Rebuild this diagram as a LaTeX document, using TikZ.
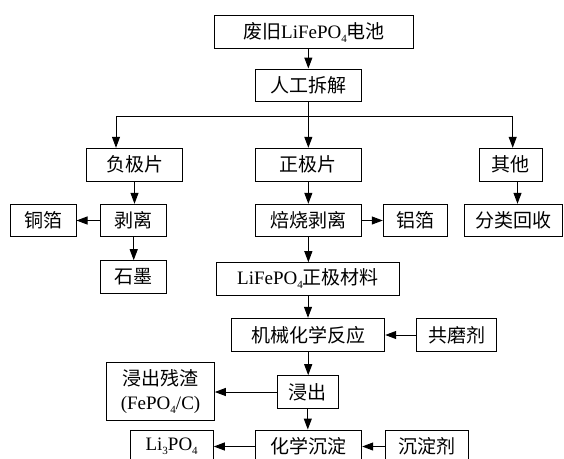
\documentclass[tikz,border=0pt]{standalone}
\usepackage{fontspec}
\setmainfont{Liberation Serif}
\newfontfamily\cjk{Noto Sans CJK SC}
\usetikzlibrary{arrows.meta}
\newcommand{\lowsub}[1]{\raisebox{-4pt}{\fontsize{11}{11}\selectfont #1}}
\newcommand{\lat}[1]{{\rmfamily #1}}
\tikzset{
  box/.style={draw, line width=1pt, inner sep=0pt, align=center,
    font=\cjk\fontsize{19}{24}\selectfont},
  arr/.style={line width=1pt, -{Triangle[length=11pt,width=8pt]}},
  ln/.style={line width=1pt}
}
\begin{document}
\begin{tikzpicture}[x=1pt,y=-1pt]
\useasboundingbox (0,0) rectangle (564,458);
\clip (0,0) rectangle (564,458);
\node[box, minimum width=199.4pt, minimum height=32.6pt] (top) at (314,32) {废旧\lat{LiFePO\lowsub{4}}电池};
\node[box, minimum width=106.7pt, minimum height=32pt] (rg) at (308.35,85) {人工拆解};
\node[box, minimum width=95.6pt, minimum height=32.7pt] (fj) at (134.5,164.65) {负极片};
\node[box, minimum width=106.7pt, minimum height=32.7pt] (zj) at (308.35,164.65) {正极片};
\node[box, minimum width=63.7pt, minimum height=32.7pt] (qt) at (510.85,164.65) {其他};
\node[box, minimum width=66pt, minimum height=32.4pt] (tb) at (43,220.5) {铜箔};
\node[box, minimum width=66pt, minimum height=32.4pt] (bl) at (133.7,220.5) {剥离};
\node[box, minimum width=66pt, minimum height=32.3pt] (sm) at (133.7,276.85) {石墨};
\node[box, minimum width=106.7pt, minimum height=32.4pt] (bs) at (308.35,220.5) {焙烧剥离};
\node[box, minimum width=63.7pt, minimum height=32.4pt] (lb) at (415.15,220.5) {铝箔};
\node[box, minimum width=98.4pt, minimum height=32.4pt] (fl) at (513.5,220.5) {分类回收};
\node[box, minimum width=182.6pt, minimum height=32.3pt] (lfp) at (308,278.85) {\lat{LiFePO\lowsub{4}}正极材料};
\node[box, minimum width=153pt, minimum height=33.4pt] (jx) at (308.2,335) {机械化学反应};
\node[box, minimum width=80pt, minimum height=33.4pt] (gm) at (456.7,335) {共磨剂};
\node[box, minimum width=61pt, minimum height=32.6pt] (jc) at (307.8,392) {浸出};
\node[box, minimum width=107.5pt, minimum height=58.4pt] (cz) at (160.55,391.5) {浸出残渣\\\lat{(FePO\lowsub{4}/C)}};
\node[box, minimum width=106.7pt, minimum height=33pt] (hx) at (308.35,446.5) {化学沉淀};
\node[box, minimum width=83.3pt, minimum height=33pt] (li) at (171.65,446.5) {\lat{Li\lowsub{3}PO\lowsub{4}}};
\node[box, minimum width=83pt, minimum height=33pt] (cd) at (426.8,446.5) {沉淀剂};
% connectors
\draw[arr] (rg.north |- top.south) -- (rg.north);
\coordinate (bj) at (308.35,116.7);
\coordinate (bL) at (116,116.7);
\coordinate (bR) at (512.7,116.7);
\draw[ln] (rg.south) -- (bj);
\draw[ln] (bL) -- (bR);
\draw[arr] (bL) -- (bL |- fj.north);
\draw[arr] (bj) -- (zj.north);
\draw[arr] (bR) -- (bR |- qt.north);
\draw[arr] (fj.south) -- (fj.south |- bl.north);
\draw[arr] (bl.west) -- (tb.east);
\draw[arr] (bl.south) -- (sm.north);
\draw[arr] (zj.south) -- (bs.north);
\draw[arr] (bs.east) -- (lb.west);
\draw[arr] ([xshift=4pt]fl.north |- qt.south) -- ([xshift=4pt]fl.north);
\draw[arr] (bs.south) -- (bs.south |- lfp.north);
\draw[arr] (lfp.south) -- (lfp.south |- jx.north);
\draw[arr] (gm.west) -- (jx.east);
\draw[arr] (jx.south) -- (jx.south |- jc.north);
\draw[arr] (jc.west) -- (jc.west -| cz.east);
\draw[arr] (jc.south) -- (jc.south |- hx.north);
\draw[arr] (hx.west) -- (li.east);
\draw[arr] (cd.west) -- (hx.east);
\end{tikzpicture}
\end{document}
